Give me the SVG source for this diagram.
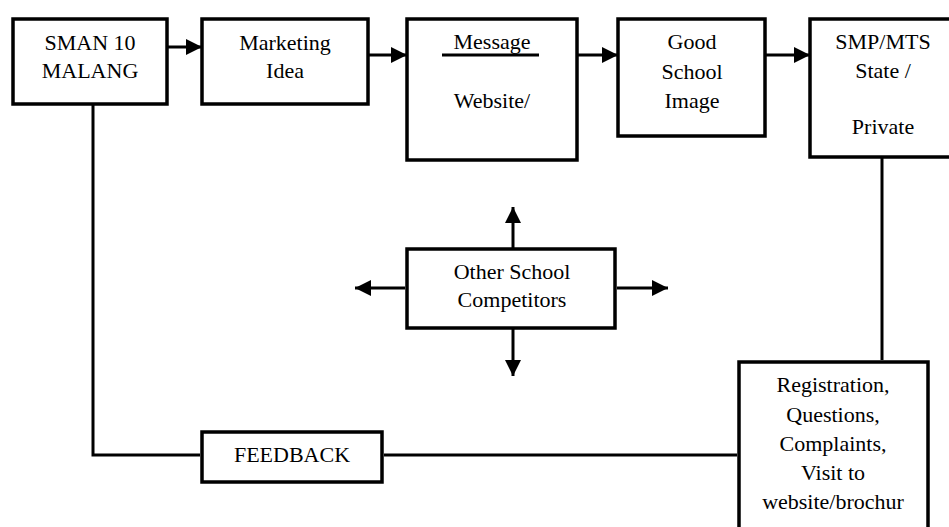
<svg xmlns="http://www.w3.org/2000/svg" width="949" height="527" viewBox="0 0 949 527">
  <style>
    .box { fill: #ffffff; stroke: #000000; stroke-width: 3.5; }
    .lbl { font-family: "Liberation Serif", "DejaVu Serif", serif; font-size: 22px; fill: #000000; text-anchor: middle; }
    .wire { fill: none; stroke: #000000; stroke-width: 3; }
  </style>
  <defs>
    <marker id="head" viewBox="0 0 16 16" markerUnits="userSpaceOnUse" markerWidth="16" markerHeight="16" refX="16" refY="8" orient="auto">
      <path d="M0,0 L16,8 L0,16 Z" fill="#000000"/>
    </marker>
  </defs>
  <rect width="949" height="527" fill="#ffffff"/>

  <g id="connectors">
    <!-- main chain -->
    <line class="wire" x1="167" y1="47" x2="202" y2="47" marker-end="url(#head)"/>
    <line class="wire" x1="368" y1="55" x2="407" y2="55" marker-end="url(#head)"/>
    <line class="wire" x1="577" y1="55" x2="618" y2="55" marker-end="url(#head)"/>
    <line class="wire" x1="765" y1="55" x2="810" y2="55" marker-end="url(#head)"/>
    <!-- competitors spreading out -->
    <line class="wire" x1="513" y1="248" x2="513" y2="207" marker-end="url(#head)"/>
    <line class="wire" x1="513" y1="329" x2="513" y2="376" marker-end="url(#head)"/>
    <line class="wire" x1="405" y1="288" x2="355" y2="288" marker-end="url(#head)"/>
    <line class="wire" x1="617" y1="288" x2="668" y2="288" marker-end="url(#head)"/>
    <!-- feedback loop -->
    <line class="wire" x1="882" y1="157" x2="882" y2="360"/>
    <line class="wire" x1="737" y1="455" x2="384" y2="455"/>
    <polyline class="wire" points="200,455 93,455 93,105"/>
  </g>

  <g id="sman">
    <rect class="box" x="13" y="19" width="154" height="85"/>
    <text class="lbl" x="90" y="50">SMAN 10</text>
    <text class="lbl" x="90" y="78">MALANG</text>
  </g>

  <g id="marketing">
    <rect class="box" x="202" y="19" width="166" height="85"/>
    <text class="lbl" x="285" y="50">Marketing</text>
    <text class="lbl" x="285" y="78">Idea</text>
  </g>

  <g id="message">
    <rect class="box" x="407" y="19" width="170" height="141"/>
    <text class="lbl" x="492" y="49">Message</text>
    <line x1="442" y1="55" x2="539" y2="55" stroke="#000000" stroke-width="3"/>
    <text class="lbl" x="492" y="108">Website/</text>
  </g>

  <g id="image">
    <rect class="box" x="618" y="19" width="147" height="117"/>
    <text class="lbl" x="692" y="49">Good</text>
    <text class="lbl" x="692" y="79">School</text>
    <text class="lbl" x="692" y="108">Image</text>
  </g>

  <g id="smp">
    <rect class="box" x="810" y="19" width="146" height="138"/>
    <text class="lbl" x="883" y="49">SMP/MTS</text>
    <text class="lbl" x="883" y="78">State /</text>
    <text class="lbl" x="883" y="134">Private</text>
  </g>

  <g id="competitors">
    <rect class="box" x="407" y="249" width="208" height="79"/>
    <text class="lbl" x="512" y="279">Other School</text>
    <text class="lbl" x="512" y="307">Competitors</text>
  </g>

  <g id="feedback">
    <rect class="box" x="202" y="432" width="180" height="50"/>
    <text class="lbl" x="292" y="462">FEEDBACK</text>
  </g>

  <g id="response">
    <rect class="box" x="739" y="362" width="189" height="180"/>
    <text class="lbl" x="833" y="392">Registration,</text>
    <text class="lbl" x="833" y="422">Questions,</text>
    <text class="lbl" x="833" y="451">Complaints,</text>
    <text class="lbl" x="833" y="480">Visit to</text>
    <text class="lbl" x="833" y="509">website/brochur</text>
  </g>
</svg>
